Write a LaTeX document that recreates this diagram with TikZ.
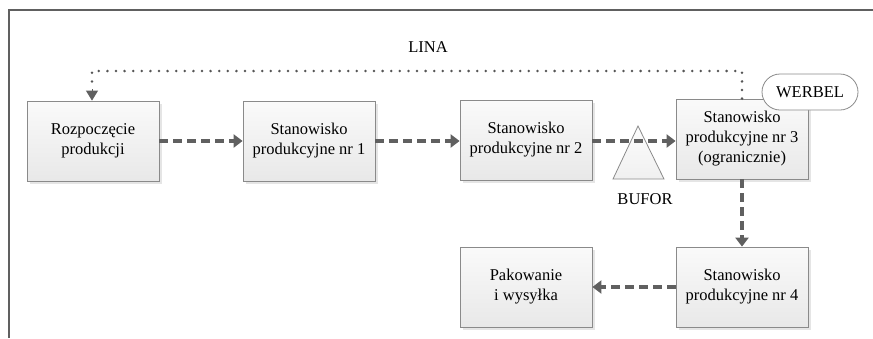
\documentclass[tikz,border=0pt]{standalone}
\usepackage{fontspec}
\setmainfont{Liberation Serif}
\usetikzlibrary{arrows.meta,shapes.misc,shadows}
\definecolor{arr}{HTML}{606060}
\definecolor{edge}{HTML}{8A8A8A}
\tikzset{
  stbox/.style={draw=edge, line width=0.8pt, top color=gray!4, bottom color=gray!18,
    minimum width=132pt, minimum height=80pt, inner sep=0pt, align=center,
    font=\fontsize{16.5}{20}\selectfont,
    drop shadow={shadow xshift=2.5pt, shadow yshift=-2.5pt, fill=gray!25, opacity=0.8}},
  flow/.style={draw=arr, line width=4pt, dash pattern=on 9pt off 5pt,
    -{Triangle[length=9pt,width=13pt]}},
  rope/.style={draw=arr!90!black, line width=2.8pt, line cap=round, dash pattern=on 0pt off 8.6pt},
  ropetip/.style={draw=arr, line width=1pt, -{Triangle[length=10pt,width=12pt]}},
  lbl/.style={font=\fontsize{16.5}{20}\selectfont, inner sep=0pt},
}
\begin{document}
\begin{tikzpicture}[x=1pt,y=-1pt]
\useasboundingbox (0,0) rectangle (873,338);
% frame
\draw[gray!75!black, line width=1.4pt] (9,338) -- (9,10) -- (873,10);

% boxes
\node[stbox] (start) at (93,141) {Rozpoczęcie\\produkcji};
\node[stbox] (s1) at (309,141) {Stanowisko\\produkcyjne nr 1};
\node[stbox] (s2) at (526,140) {Stanowisko\\produkcyjne nr 2};
\node[stbox] (s3) at (742,139) {Stanowisko\\produkcyjne nr 3\\(ogranicznie)};
\node[stbox] (pak) at (526,287) {Pakowanie\\i wysyłka};
\node[stbox] (s4) at (742,287) {Stanowisko\\produkcyjne nr 4};

% buffer triangle
\path[draw=edge, line width=0.8pt, top color=gray!2, bottom color=gray!12]
  (638,126) coordinate (bt) -- (664,179) -- (613,179) -- cycle;
\node[lbl] (bufor) at (645,199) {BUFOR};

% werbel
\node[draw=edge, line width=0.8pt, fill=white, rounded rectangle,
  minimum width=96pt, minimum height=36pt, inner sep=0pt,
  font=\fontsize{16.5}{20}\selectfont] (werbel) at (810,92) {WERBEL};

% LINA
\node[lbl] (lina) at (428,47) {LINA};
\coordinate (r1) at (742,71);
\coordinate (r2) at (92,71);
\coordinate (r3) at (92,89);
\draw[rope] (s3.north) -- (r1) -- (r2) -- (r3);
\draw[ropetip] (r3) -- (start.north -| r3);

% flows
\draw[flow] (start.east) -- (s1.west);
\draw[flow] (s1.east) -- (s2.west |- s1.east);
\draw[flow] (s2.east |- s1.east) -- (s3.west |- s1.east);
\draw[flow] (s3.south) -- (s4.north);
\draw[flow] (s4.west) -- (pak.east);
\end{tikzpicture}
\end{document}
